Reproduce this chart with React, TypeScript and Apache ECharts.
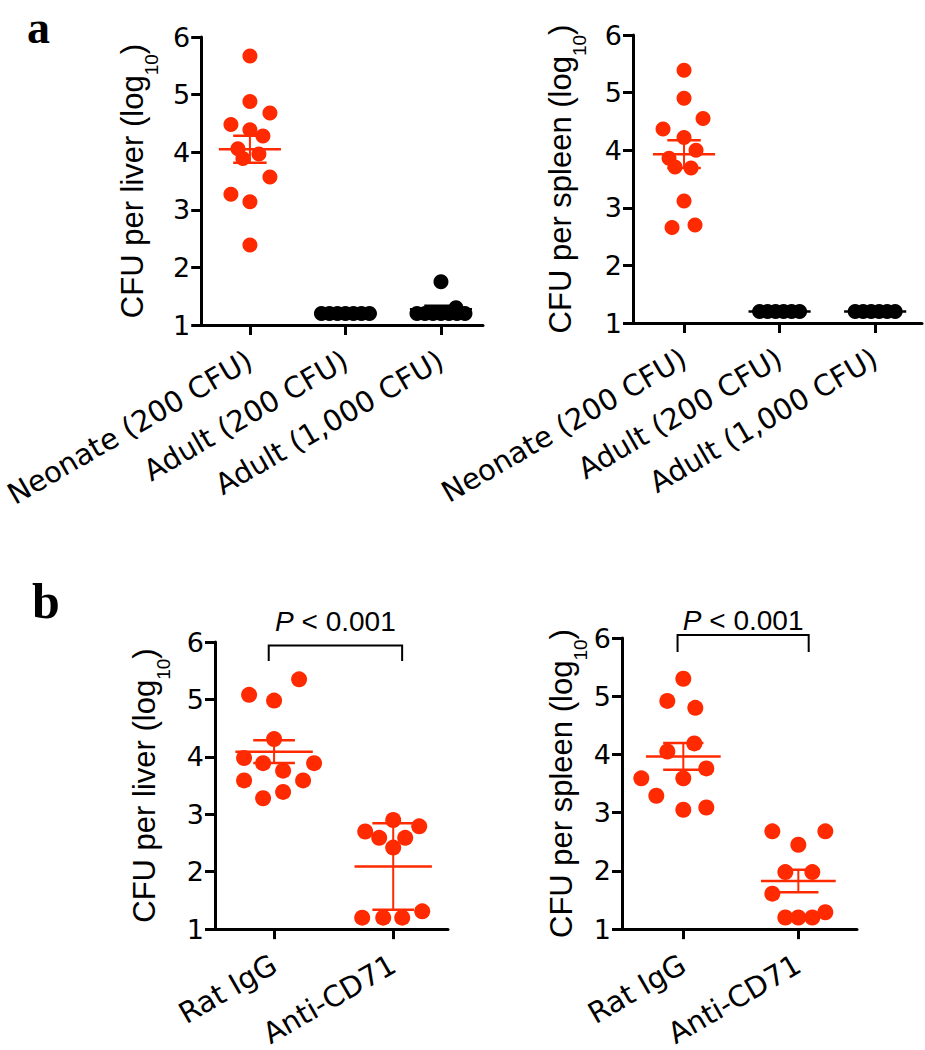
import React, { useEffect, useRef } from "react";
import * as echarts from "echarts";

const FONT = "DejaVu Sans";
const TFONT = "Liberation Sans";
const PFONT = "Liberation Sans";
const RED = "#FF2A00";
const BLACK = "#000000";

// ---------- categories & ticks ----------
const categoriesA = ["Neonate (200 CFU)", "Adult (200 CFU)", "Adult (1,000 CFU)"];
const categoriesB = ["Rat IgG", "Anti-CD71"];
const yTickValues = [1, 2, 3, 4, 5, 6];
const pValueText = "P < 0.001";

// ---------- panel a, liver (log10 CFU) ----------
const aLiverNeonate = [5.67, 4.88, 4.68, 4.48, 4.39, 4.28, 4.06, 3.97, 3.89, 3.57, 3.27, 3.14, 2.39];
const aLiverAdult200 = [1.2, 1.2, 1.2, 1.2, 1.2, 1.2, 1.2];
const aLiverAdult1000 = [1.2, 1.2, 1.2, 1.2, 1.2, 1.2, 1.2, 1.3, 1.75];
// ---------- panel a, spleen ----------
const aSpleenNeonate = [5.39, 4.9, 4.55, 4.37, 4.22, 4.0, 3.86, 3.71, 3.69, 3.12, 2.66, 2.7];
const aSpleenAdult200 = [1.2, 1.2, 1.2, 1.2, 1.2, 1.2];
const aSpleenAdult1000 = [1.2, 1.2, 1.2, 1.2, 1.2, 1.2];
// ---------- panel b, liver ----------
const bLiverRatIgG = [5.35, 5.08, 4.98, 4.31, 3.98, 3.89, 3.89, 3.76, 3.59, 3.59, 3.28, 3.39];
const bLiverAntiCD71 = [2.9, 2.7, 2.79, 2.59, 2.59, 2.42, 1.2, 1.2, 1.2, 1.31];
// ---------- panel b, spleen ----------
const bSpleenRatIgG = [5.3, 4.92, 4.8, 4.19, 4.05, 3.76, 3.59, 3.59, 3.29, 3.05, 3.09];
const bSpleenAntiCD71 = [2.68, 2.68, 2.45, 1.98, 1.98, 1.61, 1.2, 1.2, 1.2, 1.29];

// ---------- horizontal spread of the dots in each column (px) ----------
const aLiverNeonateDx = [0, 0, 20, -19, 0, 13, -12, 9, -7, 20, -19, 0, 0];
const aLiverAdult200Dx = [-24, -16, -8, 0, 8, 16, 24];
const aLiverAdult1000Dx = [-24, -16, -8, 0, 8, 16, 24, 15, 0];
const aSpleenNeonateDx = [0, 0, 19, -21, 0, 12, -15, -9, 7, 0, -12, 11];
const aSpleenAdultDx = [-20, -12, -4, 4, 12, 20];
const bLiverRatIgGDx = [25, -25, 0, 0, -30, -11, 40, 9, -30, 29, -11, 9];
const bLiverAntiCD71Dx = [0, -28, 26, -14, 12, 0, -31, -10, 9, 29];
const bSpleenRatIgGDx = [0, -16, 12, 11, -16, 23, -42, 0, -27, 0, 23];
const bSpleenAntiCD71Dx = [-26, 27, 0, -13, 14, -26, -13, 0, 14, 27];

type Group = { values: number[]; dx: number[]; color: string; err: "sem" | "sd" };

const stats = (v: number[]) => {
  const n = v.length;
  const m = v.reduce((s, x) => s + x, 0) / n;
  const sd = Math.sqrt(v.reduce((s, x) => s + (x - m) * (x - m), 0) / (n - 1));
  return { mean: m, sd, sem: sd / Math.sqrt(n) };
};

const panels = [
  {
    grid: { left: 200, top: 37, width: 283, height: 288 },
    xMin: 0.49, xMax: 3.44, cats: categoriesA, organ: "liver", gap: 53, dot: 15,
    groups: [
      { values: aLiverNeonate, dx: aLiverNeonateDx, color: RED, err: "sem" },
      { values: aLiverAdult200, dx: aLiverAdult200Dx, color: BLACK, err: "sem" },
      { values: aLiverAdult1000, dx: aLiverAdult1000Dx, color: BLACK, err: "sem" },
    ] as Group[],
    bracket: null as null | number[],
    pGap: 0,
  },
  {
    grid: { left: 633, top: 35, width: 289, height: 288 },
    xMin: 0.466, xMax: 3.49, cats: categoriesA, organ: "spleen", gap: 57, dot: 15,
    groups: [
      { values: aSpleenNeonate, dx: aSpleenNeonateDx, color: RED, err: "sem" },
      { values: aSpleenAdult200, dx: aSpleenAdultDx, color: BLACK, err: "sem" },
      { values: aSpleenAdult1000, dx: aSpleenAdultDx, color: BLACK, err: "sem" },
    ] as Group[],
    bracket: null as null | number[],
    pGap: 0,
  },
  {
    grid: { left: 215, top: 642, width: 233, height: 293 },
    xMin: 0.504, xMax: 2.46, cats: categoriesB, organ: "liver", gap: 55, dot: 16,
    groups: [
      { values: bLiverRatIgG, dx: bLiverRatIgGDx, color: RED, err: "sem" },
      { values: bLiverAntiCD71, dx: bLiverAntiCD71Dx, color: RED, err: "sd" },
    ] as Group[],
    bracket: [0.955, 2.075, 5.94, 5.67],
    pGap: 24,
  },
  {
    grid: { left: 622, top: 638, width: 235, height: 293 },
    xMin: 0.467, xMax: 2.51, cats: categoriesB, organ: "spleen", gap: 40, dot: 16,
    groups: [
      { values: bSpleenRatIgG, dx: bSpleenRatIgGDx, color: RED, err: "sem" },
      { values: bSpleenAntiCD71, dx: bSpleenAntiCD71Dx, color: RED, err: "sem" },
    ] as Group[],
    bracket: [0.95, 2.09, 6.05, 5.76],
    pGap: 15,
  },
];

function buildOption() {
  const grid: any[] = [];
  const xAxis: any[] = [];
  const yAxis: any[] = [];
  const series: any[] = [];

  panels.forEach((p, pi) => {
    grid.push({ ...p.grid, containLabel: false });
    const tickPos = p.cats.map((_, i) => i + 1);
    xAxis.push({
      type: "value",
      gridIndex: pi,
      min: p.xMin,
      max: p.xMax,
      splitLine: { show: false },
      axisLine: { show: true, onZero: false, lineStyle: { color: BLACK, width: 3 } },
      axisTick: { show: true, customValues: tickPos, length: 10, lineStyle: { color: BLACK, width: 3 } },
      axisLabel: {
        show: true,
        customValues: tickPos,
        formatter: (v: number) => p.cats[Math.round(v) - 1] ?? "",
        rotate: 30,
        margin: 33,
        fontFamily: FONT,
        fontSize: 29,
        color: BLACK,
      },
    });
    yAxis.push({
      type: "value",
      gridIndex: pi,
      min: 1,
      max: 6,
      interval: 1,
      splitLine: { show: false },
      axisLine: { show: true, onZero: false, lineStyle: { color: BLACK, width: 3 } },
      axisTick: { show: true, length: 10, lineStyle: { color: BLACK, width: 3 } },
      axisLabel: {
        fontFamily: FONT,
        fontSize: 27,
        color: BLACK,
        margin: 11,
        formatter: (v: number) => (yTickValues.includes(v) ? String(v) : ""),
      },
      name: `{a|CFU per ${p.organ} (log}{s|10}{a|)}`,
      nameLocation: "middle",
      nameRotate: 90,
      nameGap: p.gap,
      nameTextStyle: {
        color: BLACK,
        fontFamily: TFONT,
        fontSize: 31,
        rich: {
          a: { fontFamily: TFONT, fontSize: 31, lineHeight: 31, verticalAlign: "top", color: BLACK },
          s: { fontFamily: TFONT, fontSize: 19, lineHeight: 19, padding: [25, 0, 0, 0], verticalAlign: "top", color: BLACK },
        },
      },
    });

    p.groups.forEach((g, gi) => {
      series.push({
        type: "scatter",
        xAxisIndex: pi,
        yAxisIndex: pi,
        symbol: "circle",
        symbolSize: p.dot,
        silent: true,
        z: 2,
        itemStyle: { color: g.color, opacity: 1 },
        data: g.values.map((v, i) => ({ value: [gi + 1, v], symbolOffset: [g.dx[i] || 0, 0] })),
      });
      const st = stats(g.values);
      const e = g.err === "sd" ? st.sd : st.sem;
      const color = g.color;
      series.push({
        type: "custom",
        xAxisIndex: pi,
        yAxisIndex: pi,
        silent: true,
        clip: false,
        z: 3,
        data: [[gi + 1, st.mean, st.mean - e, st.mean + e]],
        renderItem: (params: any, api: any) => {
          const x = api.value(0);
          const c = api.coord([x, api.value(1)]);
          const lo = api.coord([x, api.value(2)]);
          const hi = api.coord([x, api.value(3)]);
          const unit = api.size([1, 0])[0];
          const mh = 0.325 * unit;
          const ch = 0.175 * unit;
          const ls = { stroke: color, lineWidth: 2.5 };
          return {
            type: "group",
            children: [
              { type: "line", shape: { x1: c[0] - mh, y1: c[1], x2: c[0] + mh, y2: c[1] }, style: ls },
              { type: "line", shape: { x1: c[0], y1: hi[1], x2: c[0], y2: lo[1] }, style: { stroke: color, lineWidth: 2 } },
              { type: "line", shape: { x1: c[0] - ch, y1: hi[1], x2: c[0] + ch, y2: hi[1] }, style: ls },
              { type: "line", shape: { x1: c[0] - ch, y1: lo[1], x2: c[0] + ch, y2: lo[1] }, style: ls },
            ],
          };
        },
      });
    });

    if (p.bracket) {
      const pGap = p.pGap;
      series.push({
        type: "custom",
        xAxisIndex: pi,
        yAxisIndex: pi,
        silent: true,
        clip: false,
        z: 4,
        data: [p.bracket],
        renderItem: (params: any, api: any) => {
          const a = api.coord([api.value(0), api.value(2)]);
          const b = api.coord([api.value(1), api.value(2)]);
          const drop = api.coord([api.value(0), api.value(3)])[1];
          const parts = pValueText.split(" ");
          return {
            type: "group",
            children: [
              {
                type: "polyline",
                shape: { points: [[a[0], drop], [a[0], a[1]], [b[0], b[1]], [b[0], drop]] },
                style: { stroke: BLACK, lineWidth: 2, fill: "none" },
              },
              {
                type: "text",
                style: {
                  text: `{i|${parts[0]}}{n| ${parts.slice(1).join(" ")}}`,
                  x: (a[0] + b[0]) / 2,
                  y: a[1] - pGap,
                  align: "center",
                  verticalAlign: "middle",
                  fontSize: 28,
                  fontFamily: PFONT,
                  fill: BLACK,
                  rich: {
                    i: { fontStyle: "italic", fontSize: 28, fontFamily: PFONT, fill: BLACK, color: BLACK },
                    n: { fontSize: 28, fontFamily: PFONT, fill: BLACK, color: BLACK },
                  },
                },
              },
            ],
          };
        },
      });
    }
  });

  return {
    animation: false,
    backgroundColor: "#ffffff",
    grid,
    xAxis,
    yAxis,
    series,
    graphic: [
      { type: "text", x: 27, y: 27, style: { text: "a", fontFamily: "Liberation Serif", fontWeight: "bold", fontSize: 46, fill: BLACK, verticalAlign: "middle" } },
      { type: "text", x: 32, y: 576, style: { text: "b", fontFamily: "Liberation Serif", fontWeight: "bold", fontSize: 50, fill: BLACK, verticalAlign: "top" } },
    ],
  };
}

export default function App() {
  const ref = useRef<HTMLDivElement>(null);
  useEffect(() => {
    document.body.style.margin = "0";
    if (!ref.current) return;
    const chart = echarts.init(ref.current, null, { renderer: "svg" });
    chart.setOption(buildOption() as any);
    return () => chart.dispose();
  }, []);
  return <div ref={ref} style={{ width: 925, height: 1050, background: "#fff" }} />;
}
